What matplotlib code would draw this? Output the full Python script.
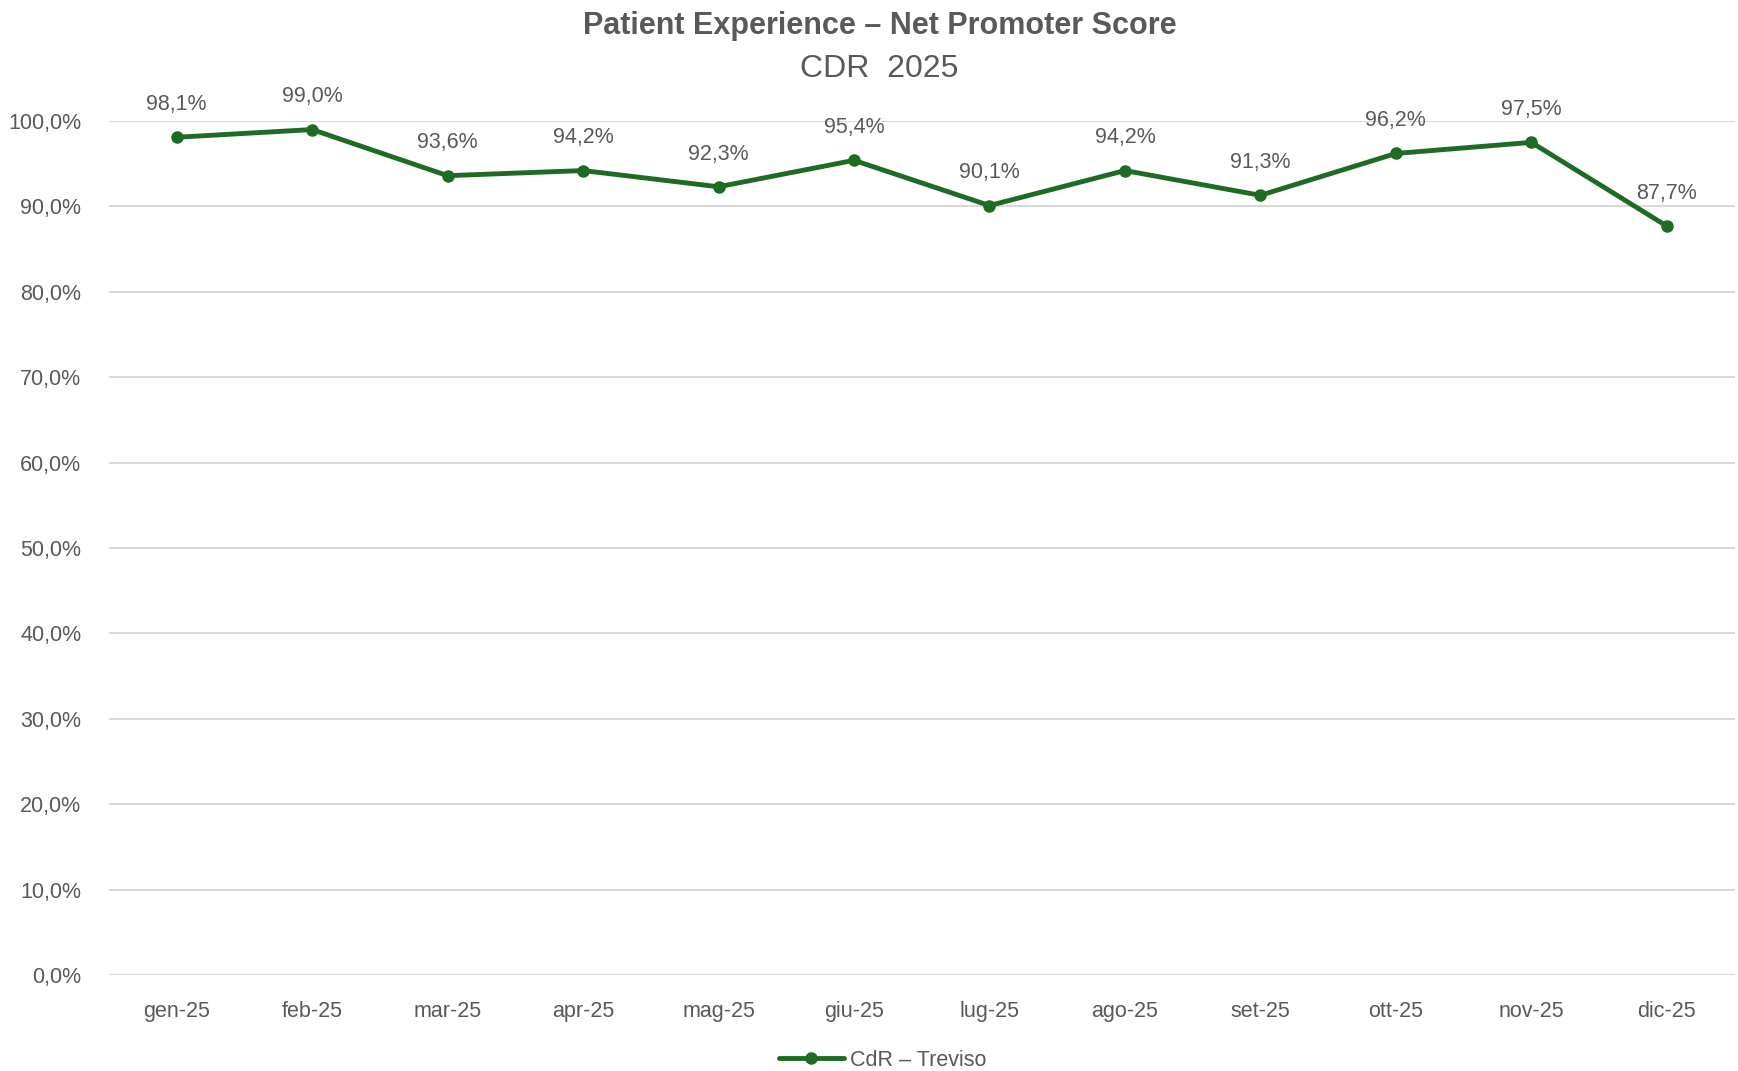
import numpy as np
import matplotlib.pyplot as plt
from matplotlib.ticker import FuncFormatter

months = ['gen-25', 'feb-25', 'mar-25', 'apr-25', 'mag-25', 'giu-25',
          'lug-25', 'ago-25', 'set-25', 'ott-25', 'nov-25', 'dic-25']
nps = [98.1, 99.0, 93.6, 94.2, 92.3, 95.4, 90.1, 94.2, 91.3, 96.2, 97.5, 87.7]
series_name = 'CdR \u2013 Treviso'

plt.rcParams['font.family'] = ['Liberation Sans', 'DejaVu Sans']
grey = '#595959'
green = '#1E6B24'

fig = plt.figure(figsize=(17.38, 10.71), dpi=100)
ax = fig.add_axes([0.0627, 0.0896, 0.9353, 0.7974])

x = np.arange(len(months))
ax.plot(x, nps, color=green, lw=3.5, marker='o', markersize=8, label=series_name,
        solid_capstyle='round', zorder=3, clip_on=False)

for xi, v in zip(x, nps):
    ax.annotate(('%.1f' % v).replace('.', ',') + '%', (xi, v), xytext=(0, 16),
                textcoords='offset points', ha='center', va='bottom',
                fontsize=15.5, color=grey)

ax.set_xlim(-0.5, len(months) - 0.5)
ax.set_ylim(0, 100)
ax.set_yticks(np.arange(0, 101, 10))
ax.yaxis.set_major_formatter(FuncFormatter(lambda v, p: ('%.1f' % v).replace('.', ',') + '%'))
ax.set_xticks(x)
ax.set_xticklabels(months)
ax.tick_params(axis='both', length=0, labelsize=15.5, labelcolor=grey)
ax.tick_params(axis='x', pad=19)
ax.tick_params(axis='y', pad=20)
ax.grid(axis='y', color='#D9D9D9', lw=1.5, zorder=0)
ax.set_axisbelow(True)
for s in ax.spines.values():
    s.set_visible(False)

fig.text(0.506, 0.976, 'Patient Experience \u2013 Net Promoter Score', ha='center', va='center',
         fontsize=22, fontweight='bold', color=grey)
fig.text(0.506, 0.936, 'CDR  2025', ha='center', va='center', fontsize=23, color=grey)

fig.legend(loc='center', bbox_to_anchor=(0.508, 0.01), frameon=False, fontsize=15.5,
           labelcolor=grey, handlelength=3, handletextpad=0.3)

fig.savefig('out.png', dpi=100)
